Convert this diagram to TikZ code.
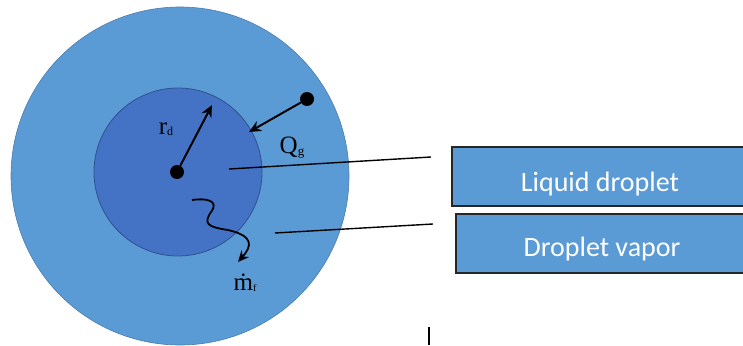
\documentclass[tikz,border=0pt]{standalone}
\usepackage{fontspec}
\setmainfont{Liberation Serif}
\newfontfamily\boxfont{Carlito}
\usetikzlibrary{arrows.meta}
\definecolor{vapor}{RGB}{91,155,213}
\definecolor{liquid}{RGB}{68,114,196}
\definecolor{vaporedge}{RGB}{75,125,175}
\definecolor{liquidedge}{RGB}{47,82,143}
\tikzset{
  x=1pt, y=-1pt,
  dot/.style={circle, fill=black, inner sep=0pt, minimum size=14pt},
  arr/.style={line width=2pt, -{Stealth[length=12pt,width=11pt]}},
  leader/.style={line width=1.4pt},
  boxstyle/.style={draw=black!85, line width=2pt, fill=vapor, inner sep=0pt, anchor=north west},
  boxtext/.style={text=white, font=\boxfont\fontsize{28}{32}\selectfont, inner sep=0pt},
  sym/.style={font=\fontsize{25}{28}\selectfont, inner sep=0pt}
}
\begin{document}
\begin{tikzpicture}
\useasboundingbox (0,0) rectangle (743,345);
% circles
\node[circle, fill=vapor, draw=vaporedge, line width=0.6pt, minimum size=338pt, inner sep=0pt] (outer) at (180,176) {};
\node[circle, fill=liquid, draw=liquidedge, line width=0.8pt, minimum size=168pt, inner sep=0pt] (inner) at (178,172) {};
% dots
\node[dot] (c) at (177,172) {};
\node[dot] (q) at (307,99) {};
\coordinate (rtip) at (212,105);
\coordinate (qtip) at (249,132);
\draw[arr] (c) -- (rtip);
\draw[arr] (q) -- (qtip);
% labels
\node[sym, anchor=base] (rd) at (166,134) {r\raisebox{-1pt}{\fontsize{12}{13}\selectfont d}};
\node[sym, anchor=base] (qg) at (292,153) {Q\raisebox{-2pt}{\fontsize{13}{14}\selectfont g}};
\node[sym, anchor=base] (mf) at (245,290) {\.m\raisebox{-1pt}{\fontsize{10}{11}\selectfont f}};
% wavy arrow
\coordinate (w0) at (192,200);
\coordinate (w1) at (238,262);
\draw[line width=1.8pt, -{Stealth[length=11pt,width=10pt]}] (w0) .. controls (205,198) and (220,200) .. (211,212)
  .. controls (203,224) and (208,227) .. (228,230)
  .. controls (254,236) and (252,246) .. (w1);
% boxes
\node[boxstyle, minimum width=300pt, minimum height=59pt] (b1) at (451,146) {};
\node[boxstyle, minimum width=300pt, minimum height=59pt] (b2) at (455,212.5) {};
\node[boxtext] (t1) at (600,184) {Liquid droplet};
\node[boxtext] (t2) at (602,249) {Droplet vapor};
% leader lines
\coordinate (l1a) at (229,169);
\coordinate (l1b) at (431,157);
\coordinate (l2a) at (275,233);
\coordinate (l2b) at (433,224);
\draw[leader] (l1a) -- (l1b);
\draw[leader] (l2a) -- (l2b);
% tick
\coordinate (ta) at (429,327);
\coordinate (tb) at (429,345);
\draw[line width=1.3pt] (ta) -- (tb);
\end{tikzpicture}
\end{document}
